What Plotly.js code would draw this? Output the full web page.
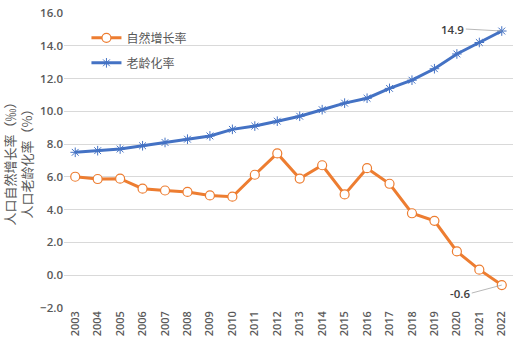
<!DOCTYPE html>
<html><head><meta charset="utf-8">
<script src="https://cdn.plot.ly/plotly-3.0.1.min.js"></script>
<style>html,body{margin:0;padding:0;background:#fff}#c{width:515px;height:352px}</style>
</head><body><div id="c"></div>
<script>
const years = [2003,2004,2005,2006,2007,2008,2009,2010,2011,2012,2013,2014,2015,2016,2017,2018,2019,2020,2021,2022];
const naturalGrowth = [6.01,5.87,5.89,5.28,5.17,5.08,4.87,4.79,6.13,7.43,5.90,6.71,4.93,6.53,5.58,3.78,3.32,1.45,0.34,-0.60];
const agingRate = [7.5,7.6,7.7,7.9,8.1,8.3,8.5,8.9,9.1,9.4,9.7,10.1,10.5,10.8,11.4,11.9,12.6,13.5,14.2,14.9];
const seriesNames = ['自然增长率','老龄化率'];
const font = '"Open Sans", "Noto Sans CJK SC", sans-serif';
const cjk = '"Noto Sans CJK SC", sans-serif';
const grey = '#595959';

const traces = [
  {x: years, y: naturalGrowth, name: seriesNames[0], type: 'scatter', mode: 'lines+markers', legendgroup: 'a',
   line: {color: '#ED7D31', width: 3}, marker: {symbol: 'circle', size: 9, color: '#ffffff', line: {color: '#ED7D31', width: 1.2}}},
  {x: years, y: agingRate, name: seriesNames[1], type: 'scatter', mode: 'lines+markers', legendgroup: 'b',
   line: {color: '#4472C4', width: 3}, marker: {symbol: 'asterisk-open', size: 8, color: '#4472C4', line: {color: '#5B8BD9', width: 1}}}
];
const last = years.length - 1;
const layout = {
  width: 515, height: 352,
  margin: {l: 64, r: 2, t: 13, b: 44},
  paper_bgcolor: '#fff', plot_bgcolor: '#fff',
  font: {family: font, color: grey, size: 11},
  showlegend: true,
  legend: {x: 0.05, y: 0.965, xanchor: 'left', yanchor: 'top', bgcolor: 'rgba(0,0,0,0)', font: {family: cjk, size: 12, color: grey}, tracegroupgap: 6, itemwidth: 30},
  xaxis: {type: 'linear', range: [2002.5, 2022.5], dtick: 1, tickangle: -90, showgrid: false, zeroline: false, showline: false, ticks: '',
    tickfont: {size: 11, color: grey, weight: 600}},
  yaxis: {range: [-2, 16], dtick: 2, tickformat: '.1f', showgrid: true, gridcolor: '#D9D9D9', gridwidth: 1, zeroline: false, showline: false,
    ticks: '', tickfont: {size: 11.5, color: grey, weight: 600},
    title: {text: '人口自然增长率（‰）<br>人口老龄化率（%）', font: {family: cjk, size: 13, color: grey}, standoff: 4}},
  annotations: [
    {x: years[last], y: agingRate[last], text: agingRate[last].toFixed(1), showarrow: true, arrowhead: 0, arrowwidth: 0.8, arrowcolor: '#A6A6A6',
     ax: -36, ay: -2, xanchor: 'right', font: {size: 11.5, color: '#404040', weight: 600}},
    {x: years[last], y: naturalGrowth[last], text: naturalGrowth[last].toFixed(1), showarrow: true, arrowhead: 0, arrowwidth: 0.8, arrowcolor: '#A6A6A6',
     ax: -30, ay: 8, xanchor: 'right', font: {size: 11.5, color: '#404040', weight: 600}}
  ]
};
Plotly.newPlot('c', traces, layout, {displayModeBar: false, staticPlot: true});
</script></body></html>
